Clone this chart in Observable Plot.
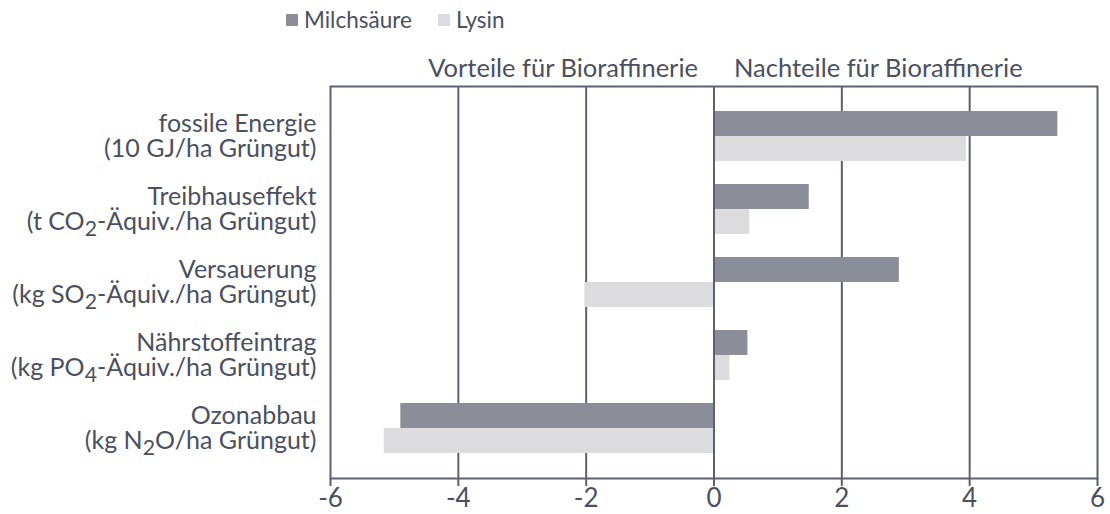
<!DOCTYPE html>
<html>
<head>
<meta charset="utf-8">
<script src="https://cdn.jsdelivr.net/npm/d3@7"></script>
<script src="https://cdn.jsdelivr.net/npm/@observablehq/plot@0.6"></script>
<style>
  body { margin: 0; background: #fff; font-family: Lato, "Open Sans", sans-serif; color: #4b5060; }
  #legend { height: 40px; position: relative; font-size: 22.5px; }
  .item { position: absolute; top: 6px; display: flex; align-items: center; }
  .sw { width: 12px; height: 12px; margin-right: 6px; }
</style>
</head>
<body>
<div id="legend"></div>
<div id="chart"></div>
<script>
const categories = [
  "fossile Energie\n(10 GJ/ha Grüngut)",
  "Treibhauseffekt\n(t CO₂-Äquiv./ha Grüngut)",
  "Versauerung\n(kg SO₂-Äquiv./ha Grüngut)",
  "Nährstoffeintrag\n(kg PO₄-Äquiv./ha Grüngut)",
  "Ozonabbau\n(kg N₂O/ha Grüngut)"
];
const series = ["Milchsäure", "Lysin"];
const milchsaeure = [5.38, 1.49, 2.90, 0.53, -4.90];
const lysin = [3.95, 0.56, -2.02, 0.25, -5.16];
const xTicks = [-6, -4, -2, 0, 2, 4, 6];
const gridTicks = [-4, -2, 2, 4];
const headers = ["Vorteile für Bioraffinerie", "Nachteile für Bioraffinerie"];
const colors = ["#8b8e98", "#dcdcdf"];

const dataM = categories.map((c, i) => ({category: c, value: milchsaeure[i]}));
const dataL = categories.map((c, i) => ({category: c, value: lysin[i]}));

// legend
const legend = document.getElementById("legend");
const legendX = [286, 438];
series.forEach((s, i) => {
  const it = document.createElement("div");
  it.className = "item";
  it.style.left = legendX[i] + "px";
  it.innerHTML = `<span class="sw" style="background:${colors[i]}"></span><span>${s}</span>`;
  legend.appendChild(it);
});

const ink = "#5d6070";
const textColor = "#4b5060";

const chart = Plot.plot({
  width: 1110,
  height: 474,
  marginTop: 46,
  marginBottom: 36,
  marginLeft: 330,
  marginRight: 13,
  style: {fontFamily: "Lato, 'Open Sans', sans-serif", color: textColor, background: "#fff"},
  x: {domain: [-6, 6], ticks: xTicks},
  y: {domain: categories, padding: 0.32, axis: null},
  marks: [
    Plot.ruleX(gridTicks, {stroke: ink, strokeWidth: 2}),
    Plot.barX(dataM, {x: "value", y: "category", fill: colors[0], insetBottom: 25}),
    Plot.barX(dataL, {x: "value", y: "category", fill: colors[1], insetTop: 25}),
    Plot.ruleX([0], {stroke: ink, strokeWidth: 2}),
    Plot.frame({stroke: ink, strokeWidth: 2}),
    Plot.axisX({ticks: xTicks, tickSize: 8, tickPadding: 2, stroke: ink, strokeWidth: 2, fontSize: 26, fill: textColor, label: null, tickFormat: d => String(d).replace("−", "-")}),
    Plot.text(categories, {y: d => d, text: d => d, frameAnchor: "left", textAnchor: "end", dx: -14, fontSize: 25, lineHeight: 0.98, fill: textColor}),
    Plot.text([headers[0]], {x: () => 0, text: d => d, frameAnchor: "top", lineAnchor: "middle", textAnchor: "end", dx: -16, dy: -18, fontSize: 25.5, fill: textColor}),
    Plot.text([headers[1]], {x: () => 0, text: d => d, frameAnchor: "top", lineAnchor: "middle", textAnchor: "start", dx: 20, dy: -18, fontSize: 25.5, fill: textColor})
  ]
});
document.getElementById("chart").appendChild(chart);

// render unicode subscripts as lowered digits
const subMap = {"₀":"0","₁":"1","₂":"2","₃":"3","₄":"4","₅":"5","₆":"6","₇":"7","₈":"8","₉":"9"};
const NS = "http://www.w3.org/2000/svg";
chart.querySelectorAll("text, tspan").forEach(el => {
  if (el.children.length) return;
  const s = el.textContent;
  if (!/[₀-₉]/.test(s)) return;
  el.textContent = "";
  const parts = s.split(/([₀-₉])/);
  let shifted = false;
  parts.forEach(p => {
    if (!p) return;
    const t = document.createElementNS(NS, "tspan");
    if (subMap[p]) {
      t.textContent = subMap[p];
      t.setAttribute("dy", "6");
      t.setAttribute("font-size", "85%");
      shifted = true;
    } else {
      t.textContent = p;
      if (shifted) { t.setAttribute("dy", "-6"); shifted = false; }
    }
    el.appendChild(t);
  });
});
</script>
</body>
</html>
